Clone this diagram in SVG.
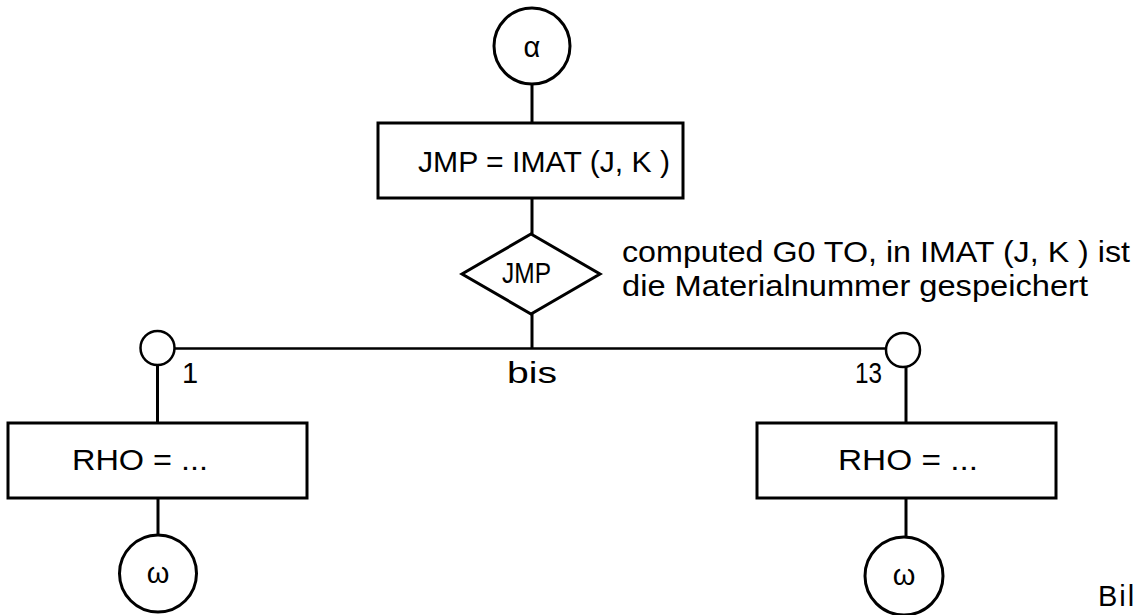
<svg xmlns="http://www.w3.org/2000/svg" width="1144" height="615" viewBox="0 0 1144 615">
<style>
.s{fill:none;stroke:#000;stroke-width:3}
.c{stroke-width:2.5}
.t{font-family:"Liberation Sans","DejaVu Sans",sans-serif;fill:#000;font-size:29px}
</style>
<rect width="1144" height="615" fill="#fff"/>
<g id="connectors" class="s">
<line x1="532" y1="84" x2="532" y2="123"/>
<line x1="532" y1="198" x2="532" y2="234"/>
<line x1="532" y1="314" x2="532" y2="348"/>
<line x1="175" y1="348.5" x2="886" y2="348.5" stroke-width="2.5"/>
<line x1="157.5" y1="365" x2="157.5" y2="423"/>
<line x1="906" y1="367" x2="906" y2="423"/>
<line x1="158" y1="498" x2="158" y2="535"/>
<line x1="906" y1="498" x2="906" y2="537"/>
</g>
<g id="alpha">
<circle class="s" cx="532" cy="46" r="38"/>
<text class="t" x="532" y="57" text-anchor="middle">α</text>
</g>
<g id="assign">
<rect class="s" x="378" y="123" width="305" height="75"/>
<text class="t" x="418" y="172" textLength="252" lengthAdjust="spacingAndGlyphs">JMP = IMAT (J, K )</text>
</g>
<g id="decision">
<polygon class="s" points="531,234 600,274 531,314 462,274"/>
<text class="t" x="502" y="283" font-size="23" textLength="49" lengthAdjust="spacingAndGlyphs">JMP</text>
</g>
<g id="note">
<text class="t" x="622" y="262" textLength="508" lengthAdjust="spacingAndGlyphs">computed G0 TO, in IMAT (J, K ) ist</text>
<text class="t" x="622" y="296" textLength="466" lengthAdjust="spacingAndGlyphs">die Materialnummer gespeichert</text>
</g>
<g id="case1">
<circle class="s c" cx="157.5" cy="348" r="17"/>
<text class="t" x="182" y="383" font-size="27">1</text>
</g>
<g id="bis">
<text class="t" x="532" y="383" font-size="27" text-anchor="middle" textLength="50" lengthAdjust="spacingAndGlyphs">bis</text>
</g>
<g id="case13">
<circle class="s c" cx="903" cy="350" r="17"/>
<text class="t" x="855" y="383" font-size="27" textLength="27" lengthAdjust="spacingAndGlyphs">13</text>
</g>
<g id="rho1">
<rect class="s" x="8" y="423" width="299" height="75"/>
<text class="t" x="72" y="470" textLength="136" lengthAdjust="spacingAndGlyphs">RHO =  ...</text>
</g>
<g id="rho13">
<rect class="s" x="757" y="423" width="299" height="75"/>
<text class="t" x="838" y="470" textLength="140" lengthAdjust="spacingAndGlyphs">RHO =  ...</text>
</g>
<g id="omega1">
<circle class="s" cx="158" cy="573.5" r="38.5"/>
<text class="t" x="158" y="583" text-anchor="middle">ω</text>
</g>
<g id="omega13">
<circle class="s" cx="904" cy="576" r="39"/>
<text class="t" x="904" y="585" text-anchor="middle">ω</text>
</g>
<g id="caption">
<text class="t" x="1098" y="606" font-size="22" letter-spacing="2">Bil</text>
</g>
</svg>
